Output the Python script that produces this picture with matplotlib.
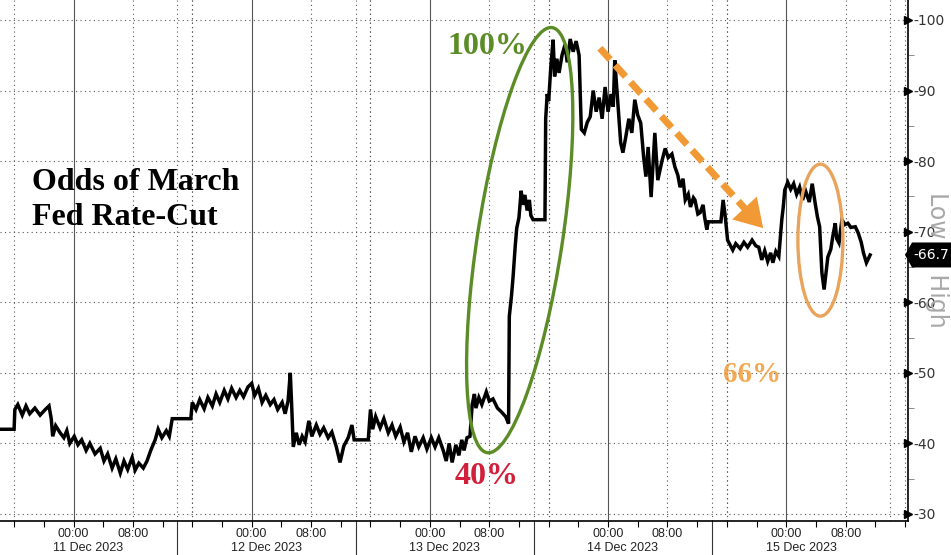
import matplotlib
matplotlib.use("Agg")
import matplotlib.pyplot as plt
import matplotlib.transforms as mtransforms
from matplotlib import font_manager
from matplotlib.patches import Ellipse, Polygon

# hours since 11 Dec 2023 00:00 -> odds (%) of a March Fed cut
hours = [-9.9, -8.0, -7.9, -7.5, -6.9, -6.4, -5.9, -5.2, -4.5, -3.8, -3.3, -3.0, -2.8, -2.4,
         -1.8, -1.3, -0.9, -0.5, 0.1, 0.6, 1.1, 1.7, 2.2, 2.9, 3.6, 4.1, 4.6, 5.2, 5.7, 6.3,
         6.8, 7.3, 7.9, 8.3, 8.8, 9.4, 9.9, 10.4, 11.0, 11.4, 11.9, 12.5, 12.9, 13.3, 13.7,
         15.8, 16.0, 16.5, 17.0, 17.6, 18.1, 18.7, 19.2, 19.7, 20.3, 20.8, 21.3, 21.9, 22.4,
         22.9, 23.5, 24.0, 24.4, 24.9, 25.4, 25.9, 26.5, 27.0, 27.5, 28.1, 28.5, 28.9, 29.2,
         29.4, 29.6, 30.0, 30.4, 30.8, 31.2, 31.7, 32.1, 32.7, 33.2, 33.7, 34.3, 34.8, 35.4,
         35.9, 36.4, 37.0, 37.5, 37.8, 39.7, 40.0, 40.3, 40.7, 41.3, 41.8, 42.4, 42.9, 43.4,
         44.0, 44.5, 45.0, 45.5, 46.0, 46.5, 47.1, 47.6, 48.2, 48.7, 49.2, 49.8, 50.2, 50.6,
         51.0, 51.5, 51.9, 52.3, 52.6, 53.0, 53.4, 53.7, 54.0, 54.2, 54.6, 55.0, 55.6, 56.0,
         56.5, 57.1, 57.6, 58.2, 58.6, 58.7, 59.0, 59.2, 59.5, 59.7, 60.0, 60.3, 60.5, 60.8,
         61.1, 61.4, 61.6, 61.9, 63.5, 63.6, 63.8, 64.0, 64.3, 64.6, 64.8, 65.1, 65.4, 65.8,
         66.2, 66.5, 66.9, 67.3, 67.7, 68.1, 68.4, 68.8, 69.2, 69.6, 70.0, 70.4, 70.8, 71.2,
         71.6, 72.0, 72.4, 72.7, 72.9, 73.2, 73.7, 74.0, 74.4, 74.8, 75.2, 75.6, 76.0, 76.4,
         76.8, 77.1, 77.4, 77.8, 78.3, 78.7, 79.3, 79.7, 80.1, 80.6, 81.0, 81.4, 81.7, 82.1,
         82.4, 82.8, 83.1, 83.5, 83.7, 84.1, 84.4, 84.8, 85.0, 85.3, 85.5, 87.2, 87.5, 87.8,
         88.1, 88.5, 88.8, 89.2, 89.8, 90.3, 90.8, 91.4, 91.9, 92.3, 92.7, 93.1, 93.5, 93.9,
         94.2, 94.6, 95.0, 95.4, 95.6, 95.8, 96.2, 96.6, 97.0, 97.4, 97.8, 98.2, 98.6, 99.1,
         99.5, 99.9, 100.2, 100.5, 100.8, 101.1, 101.4, 101.6, 102.0, 102.3, 102.6, 102.8,
         103.1, 103.5, 103.9, 104.3, 104.7, 105.3, 105.7, 106.1, 106.4, 106.8, 107.2, 107.3]
odds = [42.0, 42.0, 44.8, 45.5, 44.0, 45.3, 44.2, 45.0, 44.0, 44.8, 45.3, 43.5, 41.0, 42.5,
        41.5, 40.8, 41.8, 40.0, 41.0, 39.8, 40.5, 39.0, 40.0, 38.5, 39.3, 37.5, 38.5, 36.5,
        37.8, 35.8, 37.5, 36.3, 38.0, 36.2, 37.2, 36.5, 37.5, 39.0, 40.5, 42.0, 40.8, 41.8,
        41.0, 43.5, 43.5, 43.5, 45.8, 44.8, 46.2, 44.9, 46.5, 45.3, 47.0, 45.8, 47.5, 46.3,
        47.8, 46.5, 47.5, 46.6, 48.0, 48.5, 46.8, 47.8, 45.8, 46.8, 45.5, 46.2, 44.8, 45.8,
        44.2, 46.0, 50.0, 45.0, 39.5, 41.5, 39.8, 41.0, 40.2, 43.2, 41.0, 42.6, 41.3, 42.2,
        40.8, 41.6, 39.5, 37.3, 39.6, 40.8, 42.6, 40.5, 40.5, 44.8, 42.0, 43.8, 42.2, 43.5,
        41.5, 42.6, 41.0, 42.3, 40.2, 41.5, 38.8, 41.0, 39.5, 40.8, 39.2, 40.8, 39.5, 40.8,
        39.0, 37.5, 40.0, 37.3, 39.8, 38.3, 40.5, 39.0, 40.8, 41.0, 45.5, 47.0, 45.0, 46.5,
        45.5, 47.3, 46.0, 46.3, 45.0, 44.5, 43.8, 42.8, 58.0, 61.0, 63.5, 68.0, 70.5, 72.0,
        75.8, 73.8, 75.2, 73.0, 74.5, 72.3, 71.7, 71.7, 86.0, 89.5, 88.5, 93.5, 97.2, 92.0,
        94.5, 92.5, 95.0, 96.5, 94.0, 97.3, 95.5, 97.0, 95.0, 84.5, 84.0, 85.5, 86.3, 90.0,
        87.0, 89.0, 86.0, 90.5, 87.0, 89.5, 87.7, 94.3, 90.0, 82.6, 81.2, 83.5, 86.0, 84.0,
        88.7, 86.5, 85.4, 80.5, 77.8, 82.0, 74.9, 84.0, 77.3, 80.2, 81.8, 80.5, 81.0, 79.2,
        78.0, 76.3, 77.5, 74.5, 75.3, 73.5, 74.8, 74.5, 72.5, 72.7, 73.8, 72.1, 70.3, 71.4,
        71.4, 74.5, 72.0, 68.8, 68.0, 67.4, 68.3, 67.6, 68.5, 67.8, 68.8, 68.0, 67.8, 66.0,
        67.3, 65.8, 67.0, 65.6, 67.2, 66.5, 71.7, 73.5, 75.9, 77.0, 76.0, 76.8, 75.3, 76.3,
        74.5, 75.8, 74.2, 76.8, 74.0, 72.1, 70.7, 64.2, 61.8, 64.5, 66.4, 67.5, 69.5, 71.2,
        69.0, 68.4, 71.7, 71.0, 71.2, 70.6, 70.7, 69.8, 68.5, 67.0, 65.6, 66.5, 66.7]

day_names = ["11 Dec 2023", "12 Dec 2023", "13 Dec 2023", "14 Dec 2023", "15 Dec 2023"]
y_ticks = [30, 40, 50, 60, 70, 80, 90, 100]
last_value = 66.7

GREEN = "#5b8c25"
ORANGE = "#f19a35"
RED = "#d21f3c"
GRID = "#555555"

# narrow font for the time axis if there is one
try:
    font_manager.findfont("Liberation Sans Narrow", fallback_to_default=False)
    TICKFONT, TICKSIZE = "Liberation Sans Narrow", 10
except ValueError:
    TICKFONT, TICKSIZE = "Liberation Sans", 9

fig = plt.figure(figsize=(9.51, 5.55), dpi=100)
ax = fig.add_axes([0, 34 / 555, 908 / 951, 521 / 555])
ax.set_xlim(-9.9, 112.4)
ax.set_ylim(29.0, 102.83)

# grid
for d in range(5):
    base = d * 24
    ax.axvline(base, color=GRID, lw=0.8, zorder=1)
    for off in (8, 16, -8):
        ax.axvline(base + off, color=GRID, lw=0.8, ls=(0, (1, 3)), zorder=1)
    ax.axvline(base + 14, color=GRID, lw=0.8, ls=(0, (1, 3)), zorder=1)
for v in y_ticks:
    ax.axhline(v, color=GRID, lw=0.8, ls=(0, (1, 3)), zorder=1)

ax.plot(hours, odds, color="black", lw=2.5, zorder=5, solid_joinstyle="miter")

# spines
for s in ("left", "top"):
    ax.spines[s].set_visible(False)
ax.spines["right"].set_linewidth(1.2)
ax.spines["bottom"].set_linewidth(1.2)

# right axis
ax.yaxis.tick_right()
ax.set_yticks(y_ticks)
ax.set_yticklabels(["-%d" % v for v in y_ticks], fontsize=10, color="#333333")
ax.set_yticks([35, 45, 55, 65, 75, 85, 95], minor=True)
ax.tick_params(axis="y", which="major", length=0, pad=4)
ax.tick_params(axis="y", which="minor", length=4, color="#777777", direction="out")
ytrans = mtransforms.blended_transform_factory(ax.transAxes, ax.transData)
ax.plot([1.0] * len(y_ticks), y_ticks, ls="none", marker=">", ms=6, color="black",
        transform=ytrans, clip_on=False, zorder=6)

# bottom axis
xt = []
xl = []
for d in range(5):
    xt += [d * 24, d * 24 + 8]
    xl += ["00:00", "08:00"]
ax.set_xticks(xt)
ax.set_xticklabels(xl, fontsize=TICKSIZE, family=TICKFONT, color="#222222")
ax.set_xticks([h for h in range(-8, 113, 4)], minor=True)
ax.tick_params(axis="x", which="both", length=4, direction="out", pad=1, width=0.8)
xtrans = mtransforms.blended_transform_factory(ax.transData, ax.transAxes)
for d, name in enumerate(day_names):
    ax.text(d * 24 + 2, -0.051, name, transform=xtrans, ha="center", va="center",
            fontsize=TICKSIZE, family=TICKFONT, color="#222222")
for d in range(4):
    ax.plot([d * 24 + 14] * 2, [0, -0.07], color="#333333", lw=0.8,
            transform=xtrans, clip_on=False)

# annotations
ax.text(0.035, 0.635, "Odds of March", transform=ax.transAxes, fontsize=23,
        fontweight="bold", family="Liberation Serif", va="baseline")
ax.text(0.035, 0.568, "Fed Rate-Cut", transform=ax.transAxes, fontsize=23,
        fontweight="bold", family="Liberation Serif", va="baseline")
ax.text(55.8, 96.2, "100%", color=GREEN, fontsize=23, fontweight="bold",
        family="Liberation Serif", ha="center", va="center", zorder=7)
ax.text(55.6, 35.3, "40%", color=RED, fontsize=23, fontweight="bold",
        family="Liberation Serif", ha="center", va="center", zorder=7)
ax.text(91.4, 49.8, "66%", color=ORANGE, fontsize=21, fontweight="bold", alpha=0.85,
        family="Liberation Serif", ha="center", va="center", zorder=7)


def pixel_patch(patch, x, y, trans):
    patch.set_transform(fig.dpi_scale_trans + mtransforms.ScaledTranslation(x, y, trans))
    ax.add_artist(patch)


pixel_patch(Ellipse((0, 0), 4.3, 0.85, angle=81.3, fill=False, ec=GREEN, lw=2.4,
                    zorder=6), 60.1, 68.8, ax.transData)
pixel_patch(Ellipse((0, 0), 0.45, 1.52, angle=0, fill=False, ec="#e9a45c", lw=2.4,
                    zorder=6), 100.6, 68.8, ax.transData)

# dashed trend arrow
ax.plot([70.9, 91.0], [96.0, 72.6], color=ORANGE, lw=5, dashes=(2.2, 1.1),
        solid_capstyle="butt", zorder=6)
ax.annotate("", xy=(92.9, 70.5), xytext=(90.6, 73.1),
            arrowprops=dict(arrowstyle="-|>,head_length=0.9,head_width=0.55",
                            mutation_scale=22, color=ORANGE, lw=0,
                            shrinkA=0, shrinkB=0), zorder=7)

# right side label (under the tag) and last value tag
ax.text(0.985, 0.532, "Low \u2194 High", transform=fig.transFigure, rotation=270,
        ha="center", va="center", fontsize=17, color="#a8a8a8", zorder=2)
tag = Polygon([(-0.03, 0), (0.04, 0.125), (0.44, 0.125), (0.44, -0.125), (0.04, -0.125)],
              closed=True, fc="black", ec="none", clip_on=False, zorder=8)
pixel_patch(tag, 1.0, last_value, ytrans)
ax.annotate("-%.1f" % last_value, xy=(1.0, last_value), xycoords=ytrans,
            xytext=(17, 0), textcoords="offset points", ha="center", va="center",
            color="white", fontsize=10, annotation_clip=False, zorder=9)

fig.savefig("out.png", dpi=100)
